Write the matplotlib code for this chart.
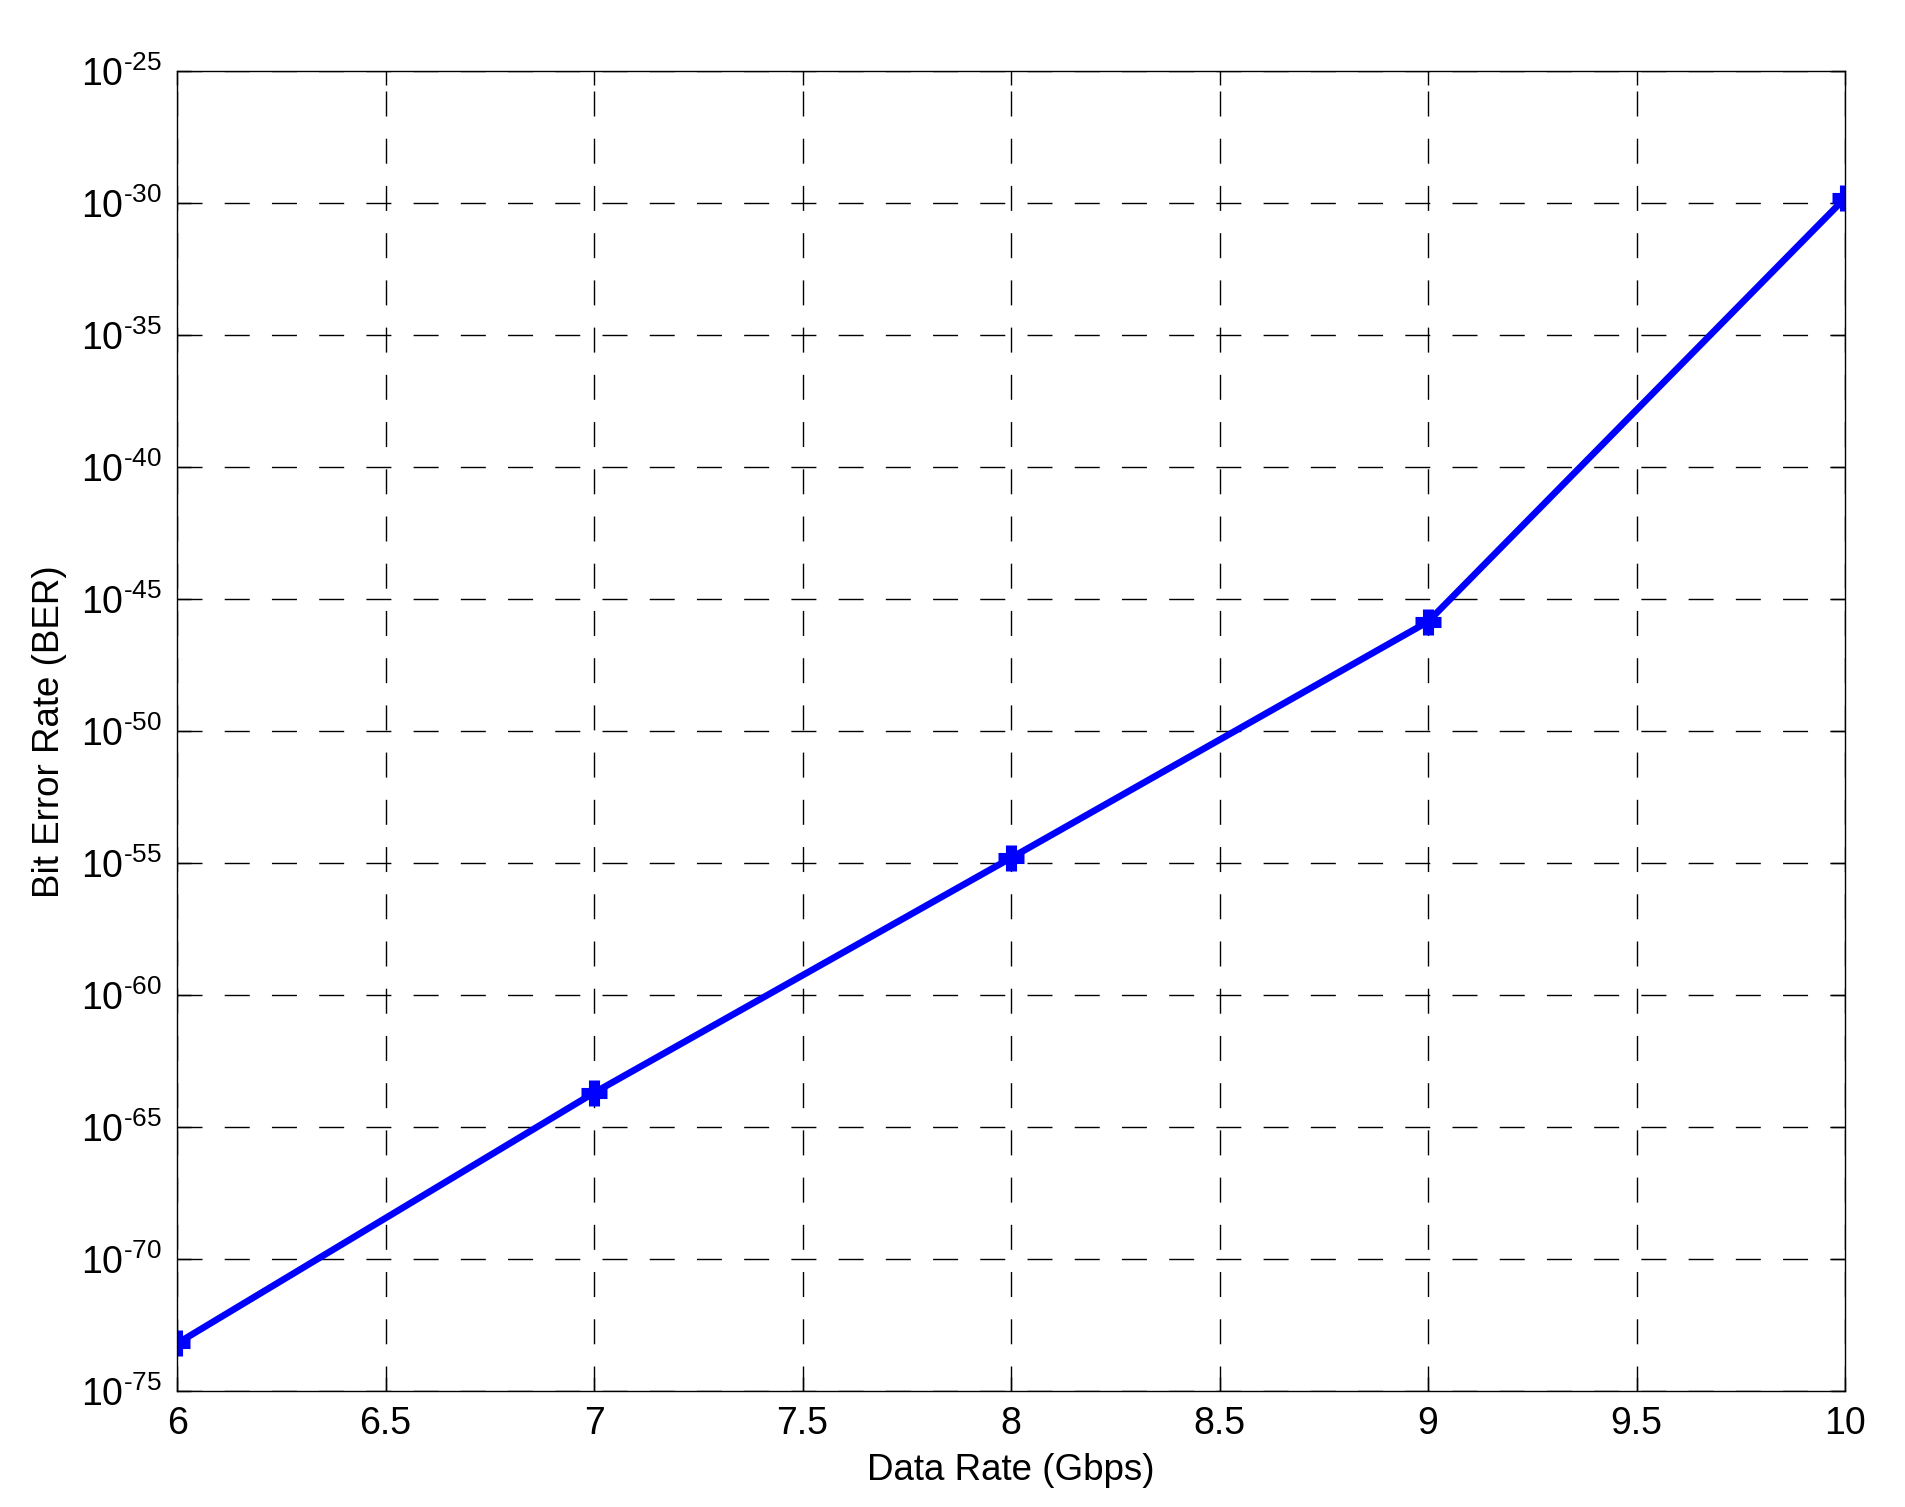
import matplotlib.pyplot as plt
import matplotlib.ticker as mticker
import numpy as np

plt.rcParams['font.family'] = ['Liberation Sans', 'DejaVu Sans']
plt.rcParams['mathtext.fontset'] = 'custom'
plt.rcParams['mathtext.rm'] = 'Liberation Sans'
plt.rcParams['mathtext.it'] = 'Liberation Sans'

data_rate = [6, 7, 8, 9, 10]
ber_exp = [-73.2, -63.7, -54.8, -45.85, -29.8]
ber = [10.0 ** e for e in ber_exp]
y_exps = list(range(-75, -24, 5))
x_labels = ['6', '6.5', '7', '7.5', '8', '8.5', '9', '9.5', '10']

fig = plt.figure(figsize=(19.06, 15.07), dpi=100)
ax = fig.add_axes([0.0929, 0.077, 0.968 - 0.0929, 0.9526 - 0.077])

ax.semilogy(data_rate, ber, color='#0000ff', linewidth=4.8, marker='+',
            markersize=19, markeredgewidth=8)

ax.set_xlim(6, 10)
ax.set_ylim(1e-75, 1e-25)
ax.set_xticks(np.arange(6, 10.01, 0.5))
ax.set_xticklabels(x_labels)
ax.yaxis.set_major_locator(mticker.FixedLocator([10.0 ** e for e in y_exps]))
ax.yaxis.set_minor_locator(mticker.NullLocator())
ax.set_yticklabels([r'$10^{\text{%d}}$' % e for e in y_exps])

ax.grid(True, color='black', linewidth=1.0, linestyle=(0, (18, 16)))
ax.tick_params(direction='in', length=10, width=1, labelsize=27, pad=11,
               top=True, right=True)
for s in ax.spines.values():
    s.set_linewidth(1.0)

ax.set_xlabel('Data Rate (Gbps)', fontsize=26.5, labelpad=8)
ax.set_ylabel('Bit Error Rate (BER)', fontsize=26.5, labelpad=10)

fig.savefig('out.png', dpi=100)
